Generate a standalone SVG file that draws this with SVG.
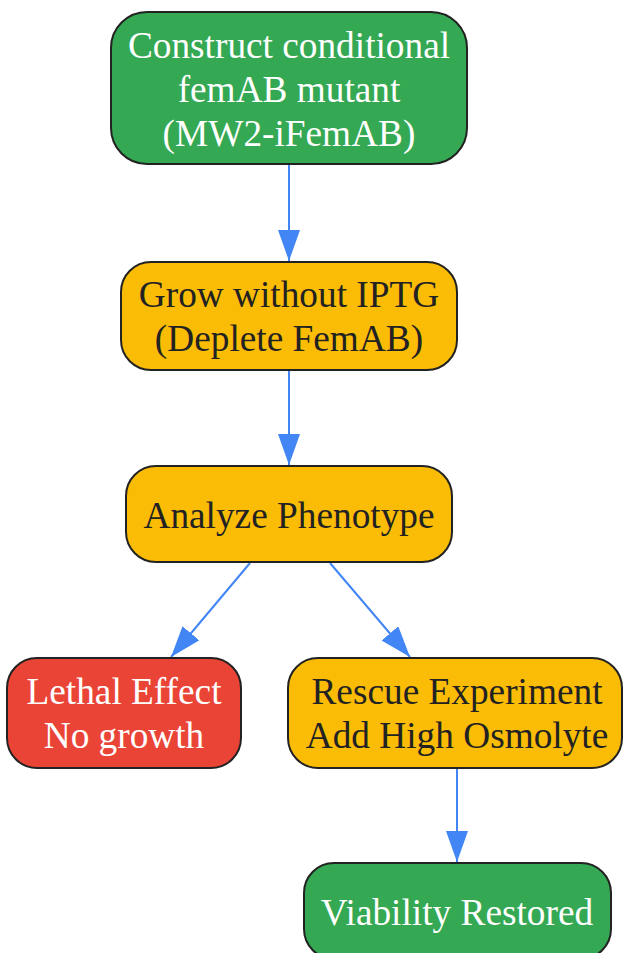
<svg xmlns="http://www.w3.org/2000/svg" width="623" height="953" viewBox="0 0 623 953">
<style>
.n{stroke:#222;stroke-width:2}
.g{fill:#34A853}.y{fill:#FABC05}.r{fill:#EA4437}
text{font-family:"Liberation Serif","Times New Roman",serif;font-size:37.3px;text-anchor:middle}
.w{fill:#fff}.d{fill:#222}
.e{stroke:#4285F4;stroke-width:2;fill:none}
</style>
<defs>
<marker id="a" markerUnits="userSpaceOnUse" markerWidth="32" markerHeight="24" refX="31" refY="11" orient="auto">
<path d="M0,0 L31,11 L0,22 Z" fill="#4285F4"/>
</marker>
</defs>
<g id="edges">
<path class="e" d="M289,164 L289,261" marker-end="url(#a)"/>
<path class="e" d="M289,370 L289,465" marker-end="url(#a)"/>
<path class="e" d="M250,563 L171,657" marker-end="url(#a)"/>
<path class="e" d="M330,563 L410,657" marker-end="url(#a)"/>
<path class="e" d="M457,768 L457,862" marker-end="url(#a)"/>
</g>
<g id="n1">
<rect class="n g" x="111" y="12" width="356" height="152" rx="36"/>
<text class="w" x="289" y="58">Construct conditional</text>
<text class="w" x="289" y="102">femAB mutant</text>
<text class="w" x="289" y="146">(MW2-iFemAB)</text>
</g>
<g id="n2">
<rect class="n y" x="121" y="262" width="336" height="108" rx="30"/>
<text class="d" x="289" y="307">Grow without IPTG</text>
<text class="d" x="289" y="351">(Deplete FemAB)</text>
</g>
<g id="n3">
<rect class="n y" x="126" y="466" width="326" height="96" rx="30"/>
<text class="d" x="289" y="528">Analyze Phenotype</text>
</g>
<g id="n4">
<rect class="n r" x="7" y="658" width="234" height="110" rx="30"/>
<text class="w" x="124" y="704">Lethal Effect</text>
<text class="w" x="124" y="748">No growth</text>
</g>
<g id="n5">
<rect class="n y" x="288" y="658" width="334" height="110" rx="30"/>
<text class="d" x="457" y="704">Rescue Experiment</text>
<text class="d" x="457" y="748">Add High Osmolyte</text>
</g>
<g id="n6">
<rect class="n g" x="304" y="863" width="307" height="96" rx="30"/>
<text class="w" x="457" y="925">Viability Restored</text>
</g>
</svg>
